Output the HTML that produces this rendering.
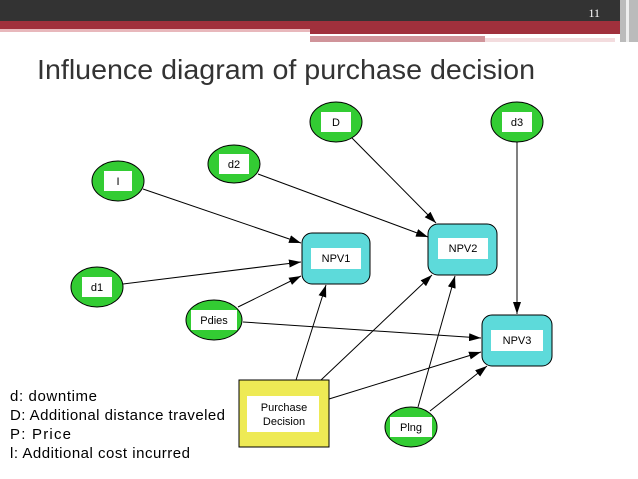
<!DOCTYPE html>
<html><head><style>
body{margin:0;width:638px;height:479px;background:#fff;overflow:hidden;position:relative;font-family:"Liberation Sans",sans-serif}
</style></head><body>
<svg width="638" height="479" style="position:absolute;left:0;top:0" font-family="Liberation Sans, sans-serif">
<defs><marker id="a" markerWidth="12" markerHeight="8" refX="12" refY="4" orient="auto" markerUnits="userSpaceOnUse"><path d="M0,0L12,4L0,8z" fill="#000"/></marker></defs>
<rect x="0" y="0" width="638" height="21" fill="#333"/>
<rect x="0" y="21" width="638" height="8" fill="#a0303c"/>
<rect x="0" y="29" width="310" height="3" fill="#e8b8bc"/>
<rect x="310" y="29" width="310" height="5" fill="#a0303c"/>
<rect x="310" y="36" width="175" height="6" fill="#d0949a"/>
<rect x="485" y="38" width="130" height="4" fill="#f3dcde"/>
<rect x="620" y="0" width="18" height="42" fill="#bbb"/>
<rect x="626" y="0" width="3" height="42" fill="#eee"/>
<text x="600" y="17" fill="#fff" font-size="12" font-family="Liberation Serif, serif" text-anchor="end">11</text>
<text x="37" y="79" fill="#333" font-size="28" textLength="498" lengthAdjust="spacingAndGlyphs">Influence diagram of purchase decision</text>
<g stroke="#000" stroke-width="1" fill="none" marker-end="url(#a)">
<line x1="143" y1="189" x2="301" y2="243"/>
<line x1="123" y1="284" x2="301" y2="262"/>
<line x1="238" y1="307" x2="301" y2="276"/>
<line x1="243" y1="322" x2="481" y2="338"/>
<line x1="258" y1="174" x2="428" y2="237"/>
<line x1="352" y1="138" x2="436" y2="223"/>
<line x1="517" y1="141" x2="517" y2="314"/>
<line x1="296" y1="380" x2="326" y2="285"/>
<line x1="321" y1="380" x2="432" y2="275"/>
<line x1="329" y1="399" x2="481" y2="352"/>
<line x1="418" y1="407" x2="455" y2="276"/>
<line x1="430" y1="411" x2="487" y2="366"/>
</g>
<g fill="#33cc33" stroke="#000" stroke-width="1">
<ellipse cx="336" cy="122" rx="26" ry="20"/>
<ellipse cx="517" cy="122" rx="26" ry="20"/>
<ellipse cx="234" cy="164" rx="26" ry="19"/>
<ellipse cx="118" cy="181" rx="26" ry="20"/>
<ellipse cx="97" cy="287" rx="26" ry="20"/>
<ellipse cx="214" cy="320" rx="28" ry="20"/>
<ellipse cx="411" cy="427" rx="26" ry="20"/>
</g>
<g fill="#5ddada" stroke="#000" stroke-width="1">
<rect x="302" y="233" width="68" height="51" rx="10"/>
<rect x="428" y="224" width="69" height="51" rx="10"/>
<rect x="482" y="315" width="70" height="51" rx="10"/>
</g>
<rect x="239" y="380" width="90" height="67" fill="#eeea55" stroke="#000"/>
<g fill="#fff">
<rect x="321" y="112" width="30" height="20"/><rect x="502" y="112" width="30" height="20"/>
<rect x="219" y="154" width="30" height="20"/><rect x="104" y="171" width="28" height="20"/>
<rect x="82" y="277" width="30" height="20"/><rect x="191" y="310" width="46" height="20"/>
<rect x="390" y="417" width="42" height="20"/>
<rect x="311" y="248" width="50" height="21"/><rect x="438" y="238" width="50" height="21"/>
<rect x="491" y="330" width="52" height="21"/><rect x="247" y="396" width="72" height="36"/>
</g>
<g font-size="11" text-anchor="middle" fill="#000">
<text x="336" y="126">D</text><text x="517" y="126">d3</text><text x="234" y="168">d2</text>
<text x="118" y="185">I</text><text x="97" y="291">d1</text><text x="214" y="324">Pdies</text>
<text x="411" y="431">Plng</text>
<text x="336" y="262">NPV1</text><text x="463" y="252">NPV2</text><text x="517" y="344">NPV3</text>
<text x="284" y="411">Purchase</text><text x="284" y="425">Decision</text>
</g>
<g font-size="15" fill="#000" lengthAdjust="spacingAndGlyphs">
<text x="10" y="401" textLength="87">d: downtime</text>
<text x="10" y="420" textLength="215">D: Additional distance traveled</text>
<text x="10" y="439" textLength="61">P: Price</text>
<text x="10" y="458" textLength="180">l: Additional cost incurred</text>
</g>
</svg>
</body></html>
